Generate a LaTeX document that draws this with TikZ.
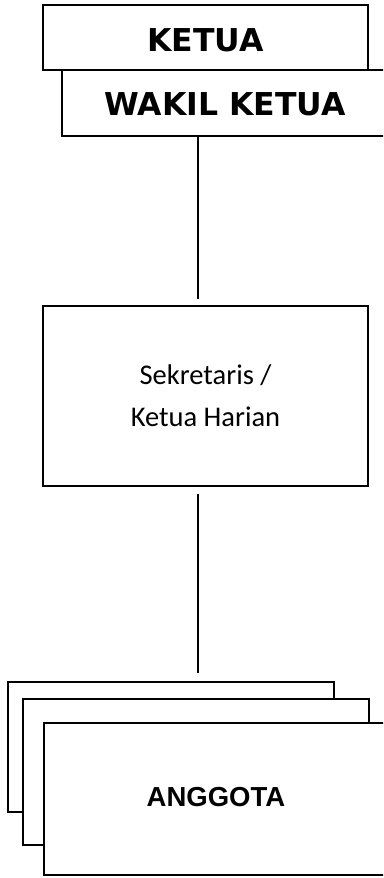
\documentclass[tikz,border=0pt]{standalone}
\usepackage{fontspec}
\setmainfont{Carlito}
\newfontfamily\headfont{DejaVu Sans}
\newfontfamily\arialfont{Liberation Sans}
\begin{document}
\begin{tikzpicture}[x=1pt,y=-1pt,
  orgbox/.style={draw=black, line width=1.6pt, fill=white, rectangle, inner sep=0pt, align=center},
  headtext/.style={font=\headfont\bfseries\fontsize{31.5}{36}\selectfont},
  link/.style={draw=black, line width=1.6pt}]
\useasboundingbox (0,0) rectangle (383,878);
\clip (0,0) rectangle (383,878);
\fill[white] (0,0) rectangle (383,878);
\node[orgbox, headtext, minimum width=325pt, minimum height=65pt, text height=28pt, text depth=0pt] (ketua) at (205.5,37.5) {KETUA};
\node[orgbox, headtext, minimum width=326pt, minimum height=66pt, text height=25pt, text depth=0pt] (wakil) at (225,103) {WAKIL KETUA};
\node[orgbox, minimum width=325pt, minimum height=180pt, font=\fontsize{28.5}{42}\selectfont] (sek) at (205.5,396) {Sekretaris /\\Ketua Harian};
\node[orgbox, minimum width=326pt, minimum height=130pt] (ang1) at (171,747) {};
\node[orgbox, minimum width=346pt, minimum height=146pt] (ang2) at (196,772) {};
\node[orgbox, minimum width=344pt, minimum height=152pt, text height=15.7pt, text depth=0pt, font=\arialfont\bfseries\fontsize{27.5}{30}\selectfont] (ang3) at (216,799) {ANGGOTA};
\coordinate (cx) at (198,0);
\draw[link, shorten >=6pt] (wakil.south -| cx) -- (sek.north -| cx);
\draw[link, shorten <=7pt, shorten >=8pt] (sek.south -| cx) -- (ang1.north -| cx);
\end{tikzpicture}
\end{document}
